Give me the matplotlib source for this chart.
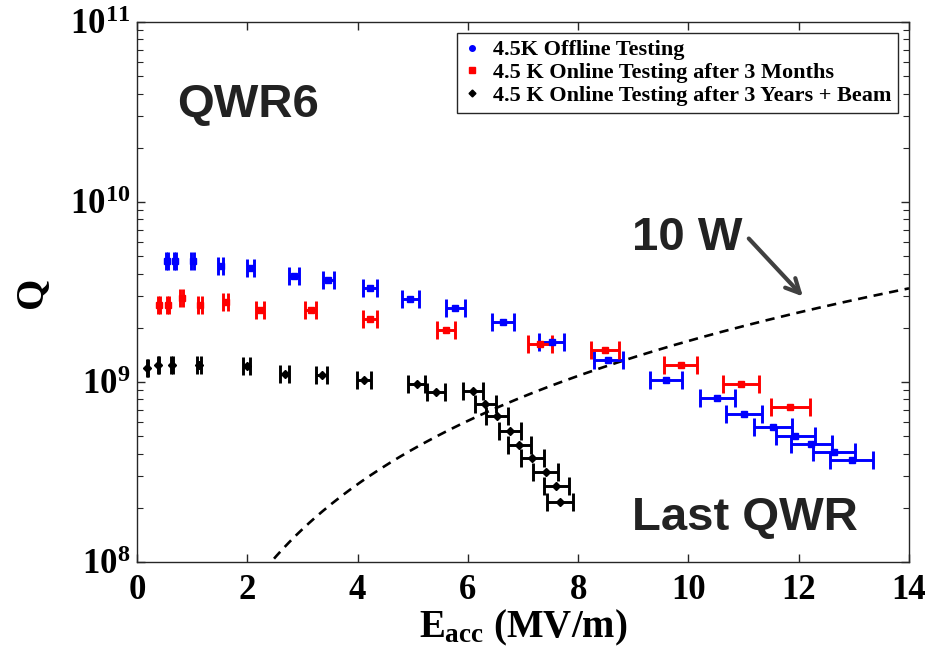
import matplotlib
matplotlib.use('Agg')
import matplotlib.pyplot as plt
import matplotlib.ticker as ticker
from matplotlib.lines import Line2D
import numpy as np

plt.rcParams['font.family'] = 'Liberation Serif'
plt.rcParams['font.weight'] = 'bold'
plt.rcParams['axes.labelweight'] = 'bold'
plt.rcParams['mathtext.fontset'] = 'custom'
plt.rcParams['mathtext.rm'] = 'Liberation Serif:bold'
plt.rcParams['mathtext.bf'] = 'Liberation Serif:bold'
plt.rcParams['mathtext.it'] = 'Liberation Serif:bold'

# 4.5K offline testing (blue)
offline_e = [0.55, 0.69, 1.01, 1.52, 2.06, 2.85, 3.47, 4.23, 4.96, 5.77, 6.63,
             7.52, 8.55, 9.59, 10.52, 11.01, 11.54, 11.94, 12.23, 12.64, 12.96]
offline_q = [4.7e9, 4.7e9, 4.7e9, 4.4e9, 4.3e9, 3.9e9, 3.68e9, 3.34e9, 2.9e9, 2.58e9, 2.15e9,
             1.66e9, 1.33e9, 1.02e9, 8.1e8, 6.6e8, 5.6e8, 5.0e8, 4.55e8, 4.1e8, 3.7e8]

# 4.5 K online testing after 3 months (red)
months_e = [0.40, 0.57, 0.81, 1.14, 1.61, 2.23, 3.15, 4.23, 5.60, 7.31, 8.49, 9.86, 10.95, 11.85]
months_q = [2.69e9, 2.69e9, 2.94e9, 2.69e9, 2.77e9, 2.5e9, 2.5e9, 2.24e9, 1.94e9, 1.62e9,
            1.5e9, 1.25e9, 9.8e8, 7.3e8]

# 4.5 K online testing after 3 years + beam (black)
years_e = [0.19, 0.39, 0.63, 1.13, 1.99, 2.68, 3.35, 4.12, 5.07, 5.42, 6.10, 6.32, 6.53,
           6.76, 6.93, 7.17, 7.41, 7.60, 7.67]
years_q = [1.2e9, 1.25e9, 1.25e9, 1.25e9, 1.22e9, 1.11e9, 1.09e9, 1.03e9, 9.8e8, 8.85e8,
           8.9e8, 7.5e8, 6.46e8, 5.35e8, 4.44e8, 3.79e8, 3.18e8, 2.64e8, 2.15e8]

e_err_frac = 0.03      # horizontal error bar, fraction of Eacc
q_10w_coef = 1.69e7    # Q at 10 W dissipation per (MV/m)^2

fig = plt.figure(figsize=(9.33, 6.58), dpi=100)
ax = fig.add_axes([0.1468, 0.1459, 0.8275, 0.8207])

# 10 W curve
e_line = np.linspace(2.3, 14, 200)
ax.plot(e_line, q_10w_coef * e_line**2, color='black', lw=1.9, ls=(0, (3.5, 2.5)), zorder=2)

series = [(offline_e, offline_q, '#0000ff', 's', 5),
          (months_e, months_q, '#ff0000', 's', 5),
          (years_e, years_q, 'black', 'D', 4.5)]
for e, q, c, m, ms in series:
    e = np.array(e)
    ax.errorbar(e, q, xerr=e * e_err_frac, fmt=m, color=c, ms=ms, mec=c, mfc=c,
                elinewidth=2.1, capsize=6.5, capthick=2.1, zorder=3)

ax.set_yscale('log')
ax.set_xlim(0, 14)
ax.set_ylim(1e8, 1e11)
ax.set_xticks([0, 2, 4, 6, 8, 10, 12, 14])
ax.set_xticklabels(['0', '2', '4', '6', '8', '10', '12', '14'])
ax.set_yticks([1e8, 1e9, 1e10, 1e11])
ax.set_yticklabels([r'$10^{8}$', r'$10^{9}$', r'$10^{10}$', r'$10^{11}$'])
ax.yaxis.set_minor_locator(ticker.LogLocator(base=10, subs=np.arange(2, 10)))
ax.yaxis.set_minor_formatter(ticker.NullFormatter())
ax.tick_params(which='both', direction='in', top=True, right=True, colors='#262626')
ax.tick_params(which='major', length=6, width=1, labelsize=25, labelcolor='black')
ax.tick_params(axis='x', pad=9)
ax.tick_params(axis='y', pad=5)
ax.tick_params(which='minor', length=4, width=0.8)
for s in ax.spines.values():
    s.set_color('#262626')
    s.set_linewidth(1)

ax.set_xlabel(r'$E_{acc}$ (MV/m)', fontsize=28, fontweight='bold', labelpad=0)
ax.set_ylabel('Q', fontsize=29, fontweight='bold', labelpad=14)

txt = dict(family='Liberation Sans', weight='bold', fontsize=34, color='#222222')
ax.text(0.052, 0.824, 'QWR6', transform=ax.transAxes, **txt)
ax.text(0.641, 0.578, '10 W', transform=ax.transAxes, **txt)
ax.text(0.641, 0.059, 'Last QWR', transform=ax.transAxes, **txt)
ax.annotate('', xy=(12.11, 2.91e9), xytext=(11.06, 6.43e9),
            arrowprops=dict(arrowstyle='->', color='#404040', lw=3, mutation_scale=25))

handles = [Line2D([], [], ls='none', marker='o', ms=4, color='#0000ff'),
           Line2D([], [], ls='none', marker='s', ms=4, color='#ff0000'),
           Line2D([], [], ls='none', marker='D', ms=3.5, color='black')]
labels = ['4.5K Offline Testing', '4.5 K Online Testing after 3 Months',
          '4.5 K Online Testing after 3 Years + Beam']
leg = ax.legend(handles, labels, loc='upper right', fontsize=16, frameon=True,
                fancybox=False, framealpha=1, edgecolor='#262626', labelspacing=0.1,
                handlelength=0.7, handletextpad=0.6, borderpad=0.3, borderaxespad=0.5)
leg.get_frame().set_linewidth(1)

plt.savefig('out.png', dpi=100)
